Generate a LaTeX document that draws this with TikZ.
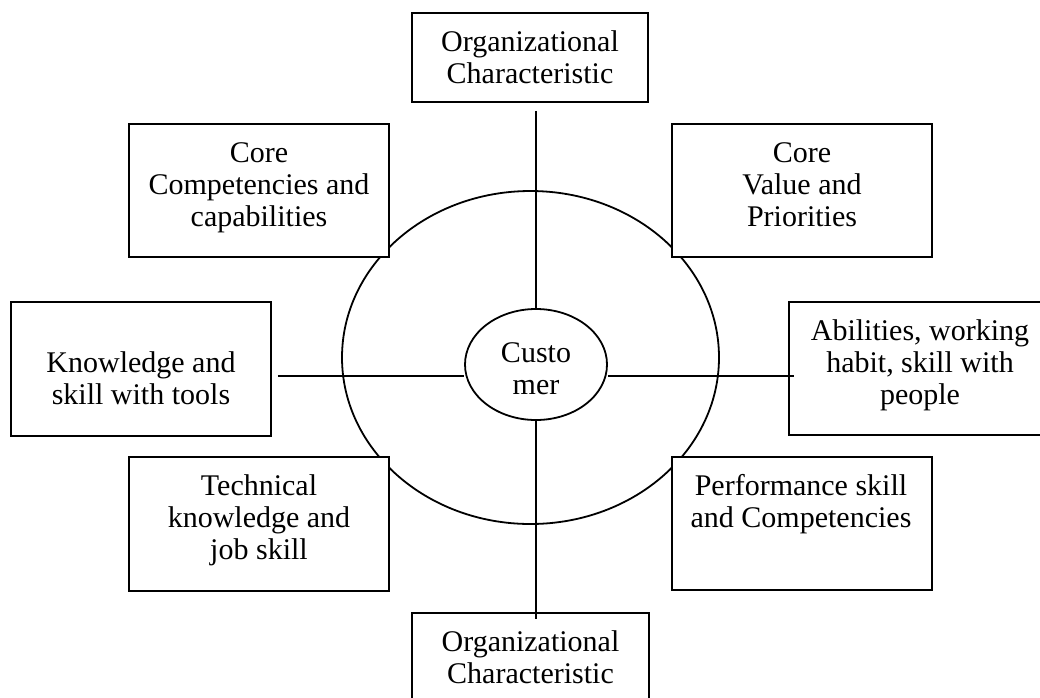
\documentclass[tikz,border=0pt]{standalone}
\usepackage{fontspec}
\setmainfont{Liberation Serif}
\usetikzlibrary{shapes.geometric}
\begin{document}
\begin{tikzpicture}[x=1pt,y=-1pt,
  box/.style={draw,line width=1.8pt,fill=white,rectangle,inner sep=0pt},
  lbl/.style={anchor=north,inner sep=0pt,align=center,font=\fontsize{30}{32}\selectfont},
  oval/.style={draw,line width=1.8pt,ellipse,inner sep=0pt},
  conn/.style={line width=1.6pt}]
\useasboundingbox (0,0) rectangle (1040,697);
% outer ellipse
\node[oval,minimum width=377pt,minimum height=333pt] (outer) at (530.5,357.5) {};
% boxes
\node[box,minimum width=236pt,minimum height=89pt] (top) at (530,57.5) {};
\node[box,minimum width=260pt,minimum height=133pt] (cc) at (259,190.5) {};
\node[box,minimum width=260pt,minimum height=133pt] (cv) at (802,190.5) {};
\node[box,minimum width=260pt,minimum height=134pt] (know) at (141,369) {};
\node[box,minimum width=262pt,minimum height=133pt] (abil) at (920,368.5) {};
\node[box,minimum width=260pt,minimum height=134pt] (tech) at (259,524) {};
\node[box,minimum width=260pt,minimum height=133pt] (perf) at (802,523.5) {};
\node[box,minimum width=237pt,minimum height=102pt] (bot) at (530.5,664) {};
% inner ellipse
\node[oval,fill=white,minimum width=142pt,minimum height=111pt] (cust) at (536,364.5) {};
\coordinate (mid) at (536,376);
% connectors
\draw[conn] ([yshift=-8pt]top.south -| cust.north) -- (cust.north);
\draw[conn] (cust.south) -- ([yshift=-7pt]bot.north -| cust.south);
\draw[conn] ([xshift=6pt]know.east |- mid) -- (cust.west |- mid);
\draw[conn] (cust.east |- mid) -- ([xshift=6pt]abil.west |- mid);
% labels
\node[lbl] (ltop) at (530,29.1) {\strut Organizational\\Characteristic};
\node[lbl] (lcc) at (259,140.1) {\strut Core\\Competencies and\\capabilities};
\node[lbl] (lcv) at (802,140.1) {\strut Core\\Value and\\Priorities};
\node[lbl] (lknow) at (141,350.1) {\strut Knowledge and\\skill with tools};
\node[lbl] (labil) at (920,318.1) {\strut Abilities, working\\habit, skill with\\people};
\node[lbl] (ltech) at (259,473.1) {\strut Technical\\knowledge and\\job skill};
\node[lbl] (lperf) at (801,473.1) {\strut Performance skill\\and Competencies};
\node[lbl] (lbot) at (530.5,629.1) {\strut Organizational\\Characteristic};
\node[lbl] (lcust) at (536,339.6) {\strut Custo\\mer};
\end{tikzpicture}
\end{document}
